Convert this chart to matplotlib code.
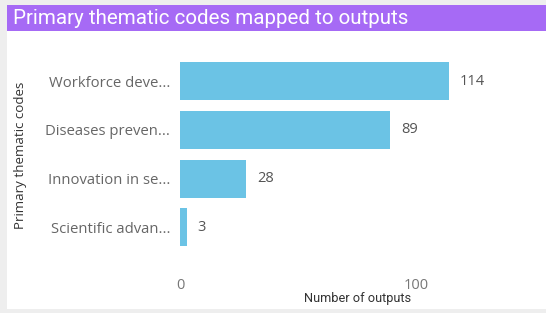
import matplotlib.pyplot as plt
from matplotlib.patches import Rectangle

categories = ["Workforce deve...", "Diseases preven...", "Innovation in se...", "Scientific advan..."]
values = [114, 89, 28, 3]
xticks = [0, 100]

W, H = 546, 313
fig = plt.figure(figsize=(W / 100, H / 100), dpi=100)
fig.patch.set_facecolor("#eeeeee")

# white card and purple title banner
fig.add_artist(Rectangle((7 / W, 4 / H), 1, (H - 9) / H, transform=fig.transFigure,
                         facecolor="white", edgecolor="none", zorder=-2))
fig.add_artist(Rectangle((7 / W, (H - 31) / H), 1, 26 / H, transform=fig.transFigure,
                         facecolor="#a66af5", edgecolor="none", zorder=-1))
fig.text(13 / W, (H - 18) / H, "Primary thematic codes mapped to outputs", color="white",
         fontsize=14.8, family="Roboto", va="center", ha="left")

ax = fig.add_axes([180 / W, 1 - 259 / H, 307 / W, 207 / H])
ax.set_facecolor("none")
ypos = list(range(len(categories)))
ax.barh(ypos, values, height=0.78, color="#6bc3e5")
ax.set_ylim(len(categories) - 0.5 + 0.15, -0.5 - 0.1)
ax.set_xlim(0, 130)
for y, v in zip(ypos, values):
    ax.text(v + 4.5, y, str(v), va="center", ha="left", fontsize=10.5, color="#555555",
            family="Open Sans")
ax.set_yticks(ypos)
ax.set_yticklabels(categories, fontsize=10.7, color="#666666", family="Open Sans")
ax.set_xticks(xticks)
ax.set_xticklabels([str(t) for t in xticks], fontsize=10.5, color="#777777", family="Open Sans")
ax.tick_params(length=0, axis="y", pad=7)
ax.tick_params(length=0, axis="x", pad=14)
for s in ax.spines.values():
    s.set_visible(False)
ax.set_xlabel("Number of outputs", fontsize=9.2, color="#333333", family="Roboto")
ax.xaxis.set_label_coords(0.577, -0.16)
fig.text(21 / W, 1 - 155 / H, "Primary thematic codes", rotation=90, fontsize=9.6,
         color="#333333", family="Open Sans", va="center", ha="center")

fig.savefig("out.png", dpi=100)
